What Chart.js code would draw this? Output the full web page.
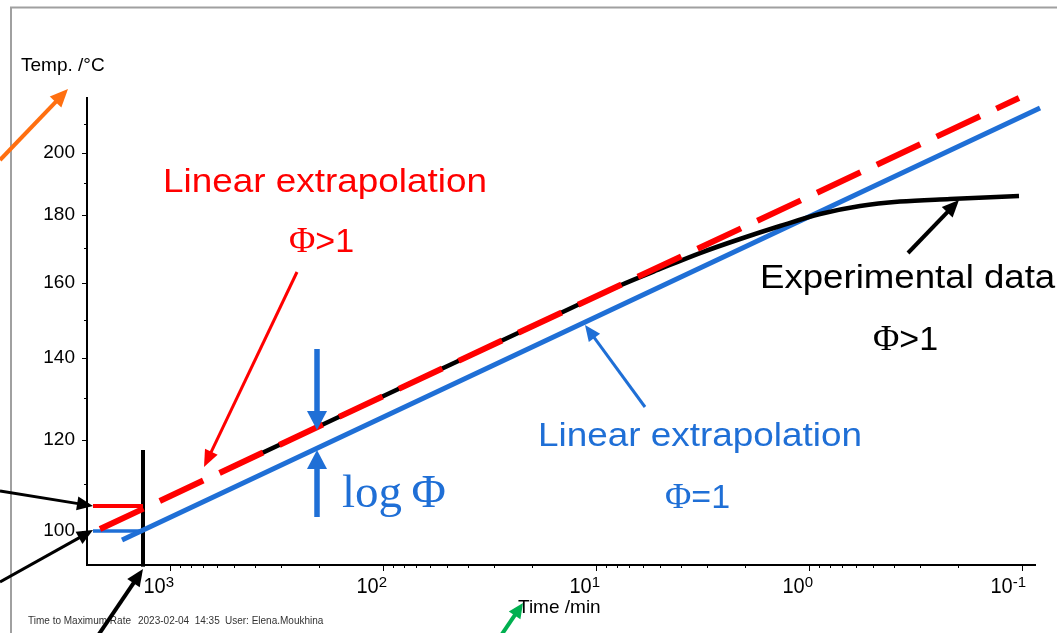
<!DOCTYPE html>
<html><head><meta charset="utf-8">
<script src="https://cdn.jsdelivr.net/npm/chart.js@4"></script>
<style>html,body{margin:0;padding:0;background:#fff;overflow:hidden}canvas{display:block}</style>
</head><body>
<canvas id="c" width="1057" height="633"></canvas>
<script>
// ---- data (time in min, temperature in °C) ----
const timeExp = [551.8, 83.22, 16.44, 7.716, 5.006, 3.249, 2.108, 1.368, 0.8878, 0.5761, 0.3739, 0.2178, 0.1033];
const tempExp = [113.1, 132.35, 150.45, 159.37, 164.04, 168.67, 172.81, 176.72, 180.38, 182.86, 184.27, 185.05, 186.0];
const timeRed = [2131, 0.1033];
const tempRed = [100.42, 219.2];
const timeBlue = [1680, 0.0823];
const tempBlue = [98.13, 215.6];
const timeRedLevel = [2299, 1339];
const tempRedLevel = [105.3, 105.3];
const timeBlueLevel = [2299, 1339];
const tempBlueLevel = [100, 100];
const timeMarker = [1339, 1339];
const tempMarker = [92.7, 117.7];
const yTickTemps = [100, 110, 120, 130, 140, 150, 160, 170, 180, 190, 200, 210];
const yLabelTemps = [100, 120, 140, 160, 180, 200];
const xDecades = [3, 2, 1, 0, -1];
const xRange = [0.0869, 2453];
const yRange = [93.04, 219.2];

// Arrhenius-type axis: linear in -1/T (K)
const V = T => -1000 / (T + 273.15);
const TV = v => -1000 / v - 273.15;
const pts = (ts, Ts) => ts.map((t, i) => ({x: t, y: V(Ts[i])}));

const BLUE = '#1f6fd6', RED = '#ff0000';
const SANS = '"Liberation Sans", Arial, sans-serif';
const SERIF = '"Liberation Serif", "Times New Roman", serif';

function arrow(c, x1, y1, x2, y2, color, w, hl, hw) {
  const a = Math.atan2(y2 - y1, x2 - x1);
  const bx = x2 - hl * Math.cos(a), by = y2 - hl * Math.sin(a);
  c.save();
  c.strokeStyle = color; c.fillStyle = color; c.lineWidth = w; c.lineCap = 'butt';
  c.beginPath(); c.moveTo(x1, y1); c.lineTo(bx + Math.cos(a), by + Math.sin(a)); c.stroke();
  c.beginPath(); c.moveTo(x2, y2);
  c.lineTo(bx - hw / 2 * Math.sin(a), by + hw / 2 * Math.cos(a));
  c.lineTo(bx + hw / 2 * Math.sin(a), by - hw / 2 * Math.cos(a));
  c.closePath(); c.fill();
  c.restore();
}
function txt(c, s, x, y, font, color, sx = 1, sy = 1) {
  c.save(); c.font = font; c.fillStyle = color; c.textAlign = 'left'; c.textBaseline = 'alphabetic';
  c.translate(x, y); c.scale(sx, sy); c.fillText(s, 0, 0); c.restore();
}
function phiText(c, rest, x, y, color) {
  c.save();
  c.font = '36px ' + SERIF; const w = c.measureText('\u03A6').width;
  c.restore();
  txt(c, '\u03A6', x, y, '36px ' + SERIF, color);
  txt(c, rest, x + w, y, '34px ' + SANS, color);
}

const deco = {
  id: 'deco',
  afterDraw(chart) {
    const c = chart.ctx, xs = chart.scales.x, ys = chart.scales.y, ca = chart.chartArea;
    // frame
    c.save(); c.strokeStyle = '#a0a0a0'; c.lineWidth = 2;
    c.beginPath(); c.moveTo(11, 633); c.lineTo(11, 7.5); c.lineTo(1057, 7.5); c.stroke(); c.restore();
    // ticks
    c.save(); c.strokeStyle = '#000'; c.lineWidth = 1;
    yTickTemps.forEach(T => {
      const p = Math.round(ys.getPixelForValue(V(T))) + 0.5;
      const len = yLabelTemps.includes(T) ? 5 : 3;
      c.beginPath(); c.moveTo(ca.left - len, p); c.lineTo(ca.left, p); c.stroke();
    });
    xDecades.forEach(d => {
      for (let m = 1; m <= 9; m++) {
        const val = m * Math.pow(10, d);
        if (val > 1000.0001 || val < 0.0999) continue;
        const p = Math.round(xs.getPixelForValue(val)) + 0.5;
        const len = m === 1 ? 6 : 3;
        c.beginPath(); c.moveTo(p, ca.bottom); c.lineTo(p, ca.bottom + len); c.stroke();
      }
    });
    c.restore();
    // x tick labels 10^n
    xDecades.forEach(d => {
      const p = xs.getPixelForValue(Math.pow(10, d));
      const e = String(d);
      c.save(); c.font = '20px ' + SANS; const w10 = c.measureText('10').width;
      c.font = '15px ' + SANS; const we = c.measureText(e).width; c.restore();
      const right = p + 4;
      txt(c, '10', right - we - w10, 593, '20px ' + SANS, '#000', 1, 1.1);
      txt(c, e, right - we, 587, '15px ' + SANS, '#000');
    });
    // axis titles
    txt(c, 'Temp. /\u00B0C', 21, 71, '19px ' + SANS, '#000');
    txt(c, 'Time /min', 518, 613, '19px ' + SANS, '#000');
    // footer
    txt(c, 'Time to Maximum Rate', 28, 624, '10px ' + SANS, '#333');
    txt(c, '2023-02-04  14:35', 138, 624, '10px ' + SANS, '#333');
    txt(c, 'User: Elena.Moukhina', 225, 624, '10px ' + SANS, '#333');
    // annotation texts
    txt(c, 'Linear extrapolation', 163, 192, '34px ' + SANS, RED, 1.085);
    phiText(c, '>1', 289, 252, RED);
    txt(c, 'Linear extrapolation', 538, 446, '34px ' + SANS, BLUE, 1.085);
    phiText(c, '=1', 665, 508, BLUE);
    txt(c, 'Experimental data', 760, 288, '33px ' + SANS, '#000', 1.11);
    phiText(c, '>1', 873, 350, '#000');
    txt(c, 'log\u2009\u03A6', 342, 507, '47px ' + SERIF, BLUE);
    // arrows
    arrow(c, 0, 160, 68, 89, '#ff6f10', 4, 18, 16);
    arrow(c, 498, 640, 523, 603, '#00b050', 4, 15, 14);
    arrow(c, 0, 491, 93, 506, '#000', 3, 16, 14);
    arrow(c, 0, 582, 93, 530, '#000', 3, 16, 14);
    arrow(c, 95, 640, 143, 569, '#000', 4, 17, 15);
    arrow(c, 297, 272, 204, 467, RED, 3, 17, 14);
    arrow(c, 645, 407, 585, 325, BLUE, 3, 16, 14);
    arrow(c, 908, 253, 959, 200, '#000', 4, 17, 15);
    arrow(c, 317, 349, 317, 430, BLUE, 5.5, 19, 20);
    arrow(c, 317, 517, 317, 450, BLUE, 5.5, 19, 20);
  }
};

new Chart(document.getElementById('c'), {
  type: 'line',
  data: {
    datasets: [
      {data: pts(timeRed, tempRed), borderColor: RED, borderWidth: 6, borderDash: [48, 18], clip: false},
      {data: pts(timeExp, tempExp), borderColor: '#000', borderWidth: 4.5, cubicInterpolationMode: 'monotone', clip: false},
      {data: pts(timeBlue, tempBlue), borderColor: BLUE, borderWidth: 5, clip: false},
      {data: pts(timeRedLevel, tempRedLevel), borderColor: RED, borderWidth: 4, clip: false},
      {data: pts(timeBlueLevel, tempBlueLevel), borderColor: BLUE, borderWidth: 3.5, clip: false},
      {data: pts(timeMarker, tempMarker), borderColor: '#000', borderWidth: 4, clip: false}
    ]
  },
  options: {
    responsive: false, animation: false, devicePixelRatio: 1,
    layout: {padding: {left: 0, top: 98, right: 22, bottom: 0}},
    plugins: {legend: {display: false}, tooltip: {enabled: false}},
    elements: {point: {radius: 0, hoverRadius: 0}, line: {tension: 0, fill: false}},
    scales: {
      x: {
        type: 'logarithmic', reverse: true, min: xRange[0], max: xRange[1],
        grid: {display: true, drawOnChartArea: false, drawTicks: false},
        border: {display: true, color: '#000', width: 2},
        ticks: {display: false},
        afterFit(s) { s.height = 68; }
      },
      y: {
        type: 'linear', min: V(yRange[0]), max: V(yRange[1]),
        afterBuildTicks(s) { s.ticks = yTickTemps.map(T => ({value: V(T)})); },
        grid: {display: true, drawOnChartArea: false, drawTicks: false},
        border: {display: true, color: '#000', width: 2},
        ticks: {
          autoSkip: false, padding: 12, color: '#000',
          font: {family: SANS, size: 19},
          callback: v => { const T = Math.round(TV(v)); return yLabelTemps.includes(T) ? String(T) : ''; }
        },
        afterFit(s) { s.width = 87; }
      }
    }
  },
  plugins: [deco]
});
</script>
</body></html>
